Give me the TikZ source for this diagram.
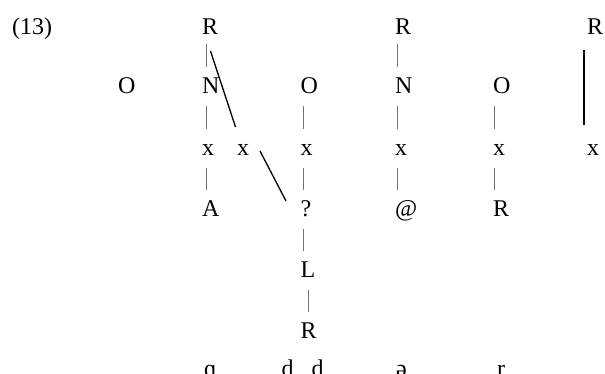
\documentclass[tikz,border=0pt]{standalone}
\usepackage{fontspec}
\setmainfont{Liberation Serif}

\begin{document}
\begin{tikzpicture}[x=1pt,y=-1pt,font=\fontsize{24}{28}\selectfont,
  lab/.style={anchor=base west,inner sep=0pt},
  bar/.style={black!55,line width=1pt},
  stem/.style={line width=1.3pt}]
\useasboundingbox (0,0) rectangle (605,373);
\clip (0,0) rectangle (605,373);
% rows of the tree
\node[lab] (ex) at (12,34) {(13)};
\node[lab] (R1) at (202,34) {R}; \node[lab] (R3) at (395,34) {R}; \node[lab] (R5) at (587,34) {R};
\node[lab] (O0) at (118,93) {O}; \node[lab] (N1) at (202,93) {N}; \node[lab] (O2) at (300.5,93) {O};
\node[lab] (N3) at (395,93) {N}; \node[lab] (O4) at (493,93) {O};
\node[lab] (X1) at (202,155) {x}; \node[lab] (Xb) at (237,155) {x}; \node[lab] (X2) at (300.5,155) {x};
\node[lab] (X3) at (395,155) {x}; \node[lab] (X4) at (493,155) {x}; \node[lab] (X5) at (587,155) {x};
\node[lab] (A1) at (202,216) {A}; \node[lab] (Q2) at (300.5,216) {?};
\node[lab] (At3) at (395,216) {@}; \node[lab] (R4) at (493,216) {R};
\node[lab] (L2) at (300.5,277) {L};
\node[lab] (RL) at (300.5,338) {R};
% transcription
\node[lab] (s1) at (204,376) {ɑ}; \node[lab] (s2) at (281.5,376) {d}; \node[lab] (s3) at (311.5,376) {d};
\node[lab] (s4) at (396,376) {ə}; \node[lab] (s5) at (497,376) {r};
% association lines
\foreach \a/\b/\d/\t in {R1/N1/4/10,N1/X1/4/13,X1/A1/4/13,O2/X2/2.5/13,X2/Q2/2.5/13,Q2/L2/2.5/13,L2/RL/7.5/13,
    R3/N3/2/10,N3/X3/2/13,X3/At3/2/13,O4/X4/1/13,X4/R4/1/13}
  \draw[bar] ([xshift=\d pt,yshift=-\t pt]\a.base west) -- ([xshift=\d pt,yshift=26pt]\b.base west);
\draw[stem] ([xshift=8.5pt,yshift=-17pt]R1.base west) -- ([xshift=-1.5pt,yshift=28pt]Xb.base west);
\draw[stem] ([xshift=23pt,yshift=4pt]Xb.base west) -- ([xshift=-14.5pt,yshift=15pt]Q2.base west);
\draw[stem] ([xshift=-3pt,yshift=-16pt]R5.base west) -- ([xshift=-3pt,yshift=30pt]X5.base west);
\end{tikzpicture}
\end{document}
